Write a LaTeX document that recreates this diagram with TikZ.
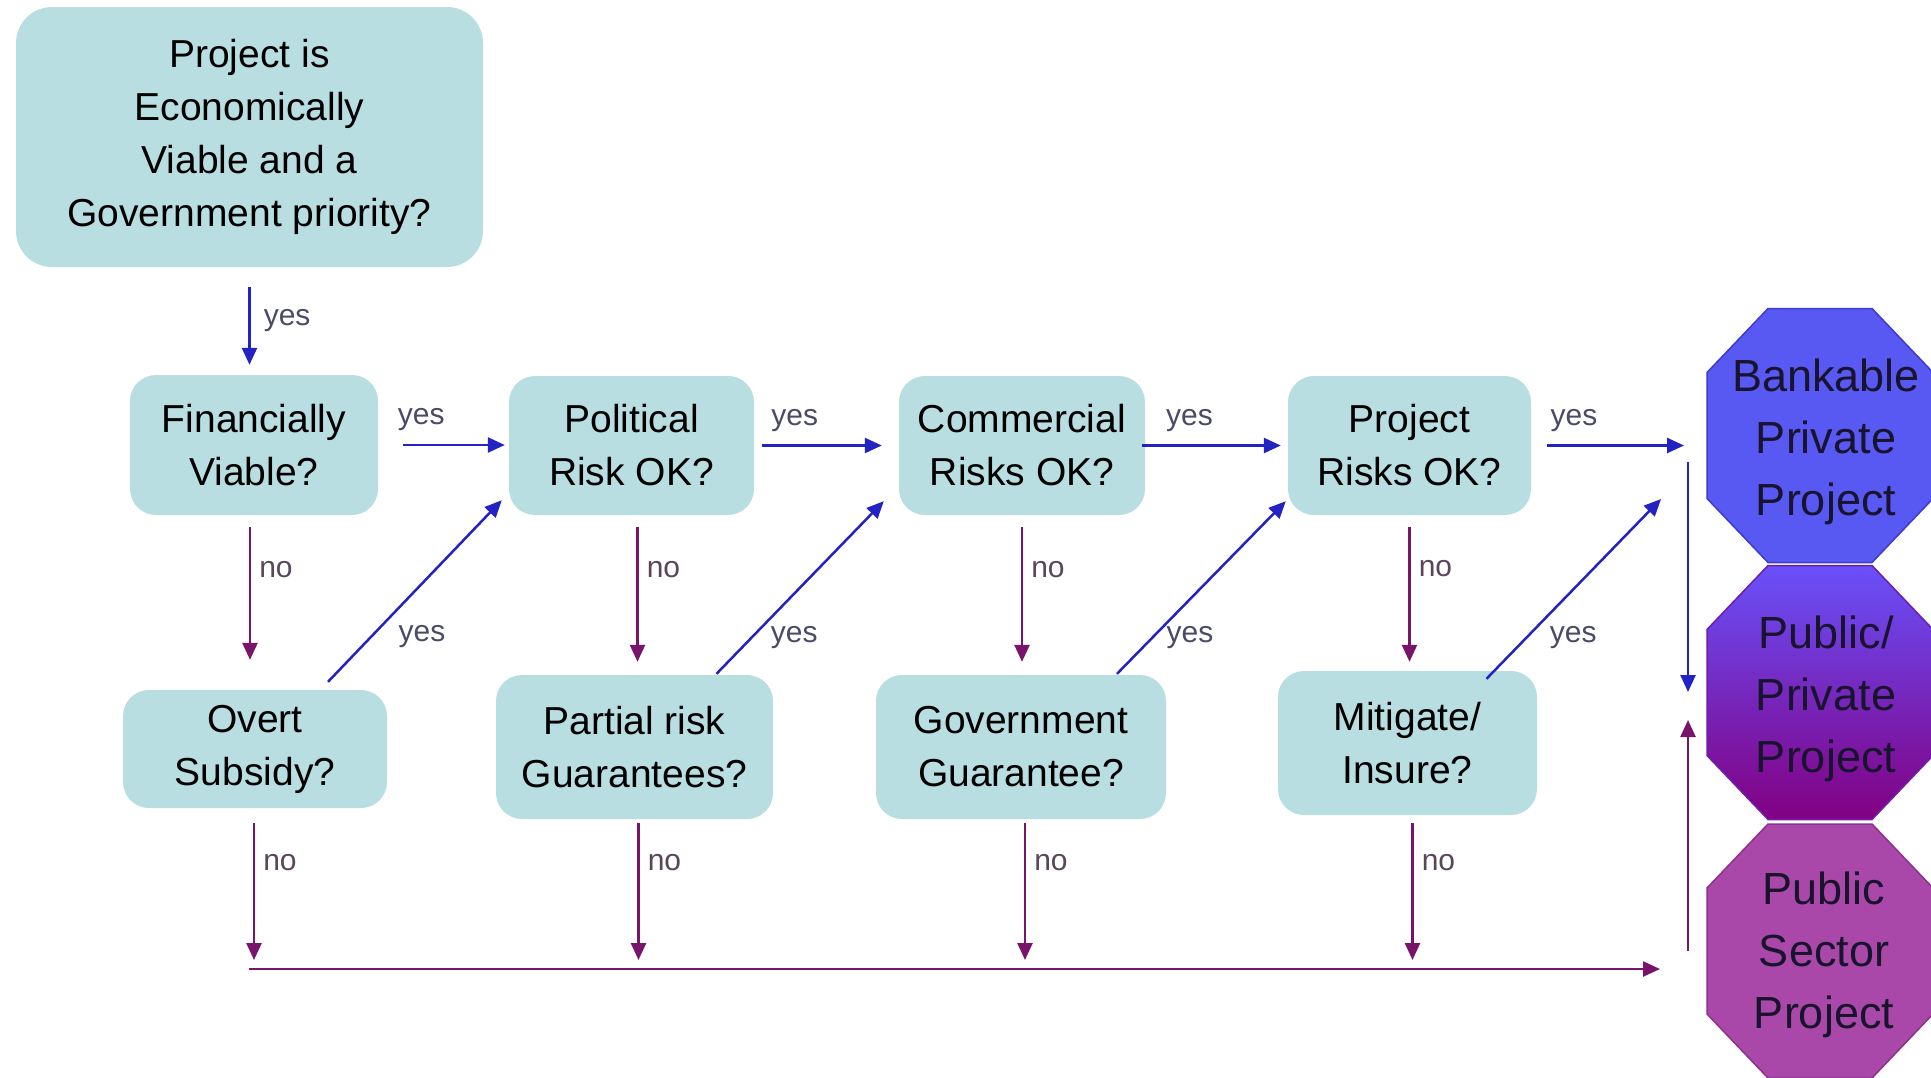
\documentclass[tikz,border=0pt]{standalone}
\usepackage{fontspec}
\setmainfont{Liberation Sans}
\usetikzlibrary{arrows.meta,calc}
\definecolor{boxfill}{RGB}{184,222,226}
\definecolor{yescol}{RGB}{35,35,195}
\definecolor{nocol}{RGB}{120,20,105}
\definecolor{yeslbl}{RGB}{75,75,105}
\definecolor{nolbl}{RGB}{90,70,90}
\definecolor{oAfill}{RGB}{88,88,242}
\definecolor{oAdraw}{RGB}{60,60,205}
\definecolor{oBtop}{RGB}{105,80,250}
\definecolor{oBbot}{RGB}{130,0,130}
\definecolor{oBdraw}{RGB}{110,30,170}
\definecolor{oCfill}{RGB}{170,72,170}
\definecolor{oCdraw}{RGB}{140,50,140}
\definecolor{octtext}{RGB}{25,20,45}
\newcommand\bxfont{\fontsize{39}{53}\selectfont}
\newcommand\lblfont{\fontsize{30}{36}\selectfont}
\newcommand\octfont{\fontsize{45}{62}\selectfont}
\begin{document}
\begin{tikzpicture}[x=1pt,y=-1pt,
  box/.style={fill=boxfill, rounded corners=26pt, align=center, font=\bxfont, text=black, inner sep=0pt},
  rowA/.style={box, minimum height=139pt},
  lbl/.style={font=\lblfont, inner sep=0pt},
  yl/.style={lbl, text=yeslbl},
  nl/.style={lbl, text=nolbl},
  ya/.style={draw=yescol, line width=2.5pt, -{Triangle[length=17pt,width=15pt]}},
  na/.style={draw=nocol, line width=2.5pt, -{Triangle[length=17pt,width=15pt]}},
  octtxt/.style={align=center, font=\octfont, text=octtext, inner sep=0pt}]
\useasboundingbox (0,0) rectangle (1931,1077);
\clip (0,0) rectangle (1931,1077);
\fill[white] (0,0) rectangle (1931,1077);

% octagons
\path[fill=oAfill, draw=oAdraw, line width=1.5pt, shift={(1820,435.5)}]
  (-113,-63) -- (-113,63) -- (-52,127) -- (52,127) -- (113,63) -- (113,-63) -- (52,-127) -- (-52,-127) -- cycle;
\path[top color=oBtop, bottom color=oBbot, draw=oBdraw, line width=1.5pt, shift={(1820,692.5)}]
  (-113,-63) -- (-113,63) -- (-52,127) -- (52,127) -- (113,63) -- (113,-63) -- (52,-127) -- (-52,-127) -- cycle;
\path[fill=oCfill, draw=oCdraw, line width=1.5pt, shift={(1820,951)}]
  (-113,-63) -- (-113,63) -- (-52,127) -- (52,127) -- (113,63) -- (113,-63) -- (52,-127) -- (-52,-127) -- cycle;
\node[octtxt] (bank) at (1826,442) {Bankable\\Private\\Project};
\node[octtxt] (ppp) at (1826,699) {Public/\\Private\\Project};
\node[octtxt] (pub) at (1824,955) {Public\\Sector\\Project};

% boxes
\node[box, minimum width=467pt, minimum height=260pt, rounded corners=36pt] (top) at (249.5,137)
  {Project is\\Economically\\Viable and a\\Government priority?};
\node[rowA, minimum width=248pt, minimum height=140pt] (fin) at (254,445) {Financially\\Viable?};
\node[rowA, minimum width=245pt] (pol) at (631.5,445.5) {Political\\Risk OK?};
\node[rowA, minimum width=246pt] (com) at (1022,445.5) {Commercial\\Risks OK?};
\node[rowA, minimum width=243pt] (prj) at (1409.5,445.5) {Project\\Risks OK?};
\node[box, minimum width=264pt, minimum height=118pt] (ovt) at (255,749) {Overt\\Subsidy?};
\node[box, minimum width=277pt, minimum height=144pt] (par) at (634.5,747) {Partial risk\\Guarantees?};
\node[box, minimum width=290pt, minimum height=144pt] (gov) at (1021,747) {Government\\Guarantee?};
\node[box, minimum width=259pt, minimum height=144pt] (mit) at (1407.5,743) {Mitigate/\\Insure?};

% free ends
\coordinate (hend) at (1684,445.5);
\coordinate (vtop) at (1688,462);
\coordinate (vbot) at (1688,692);
\coordinate (ptop) at (1688,720);
\coordinate (pbot) at (1688,951);
\coordinate (bl) at (249,969);
\coordinate (br) at (1660,969);
\coordinate (dend) at (1661,499);

% yes arrows
\draw[ya, shorten <=20pt, shorten >=10pt] (top.south) -- (top.south |- fin.north)
  node[yl, pos=0.5, anchor=west, xshift=13pt] {yes};
\draw[ya, shorten <=25pt, shorten >=4pt] (fin.east) -- (fin.east -| pol.west)
  node[yl, pos=0.33, anchor=south, yshift=13pt] {yes};
\draw[ya, shorten <=8pt, shorten >=17pt] (pol.east) -- (pol.east -| com.west)
  node[yl, pos=0.28, anchor=south, yshift=13pt] {yes};
\draw[ya, shorten <=-3pt, shorten >=7pt] (com.east) -- (com.east -| prj.west)
  node[yl, pos=0.31, anchor=south, yshift=13pt] {yes};
\draw[ya, shorten <=16pt] (prj.east) -- (hend)
  node[yl, pos=0.28, anchor=south, yshift=13pt] {yes};
\draw[ya] (vtop) -- (vbot);

% diagonal yes arrows
\draw[ya] ([xshift=73pt, yshift=8pt]ovt.north) -- ([xshift=-7pt, yshift=15pt]pol.south west)
  node[yl, pos=0.25, anchor=west, xshift=26pt] {yes};
\draw[ya] ([xshift=82pt, yshift=1pt]par.north) -- ([xshift=-15pt, yshift=14pt]com.south west)
  node[yl, pos=0.21, anchor=west, xshift=18pt] {yes};
\draw[ya] ([xshift=96pt, yshift=1pt]gov.north) -- ([xshift=-2pt, yshift=14pt]prj.south west)
  node[yl, pos=0.21, anchor=west, xshift=13pt] {yes};
\draw[ya] ([xshift=79pt, yshift=-8pt]mit.north) -- (dend)
  node[yl, pos=0.23, anchor=west, xshift=22pt] {yes};

% no arrows, first row to second row
\draw[na, shorten <=12pt, shorten >=30pt] ([xshift=-4pt]fin.south) -- ([xshift=-4pt]fin.south |- ovt.north)
  node[nl, pos=0.31, anchor=west, xshift=8pt] {no};
\draw[na, shorten <=12pt, shorten >=13pt] ([xshift=6pt]pol.south) -- ([xshift=6pt]pol.south |- par.north)
  node[nl, pos=0.34, anchor=west, xshift=8pt] {no};
\draw[na, shorten <=12pt, shorten >=13pt] (com.south) -- (com.south |- gov.north)
  node[nl, pos=0.34, anchor=west, xshift=8pt] {no};
\draw[na, shorten <=12pt, shorten >=9pt] (prj.south) -- (prj.south |- mit.north)
  node[nl, pos=0.34, anchor=west, xshift=8pt] {no};

% no arrows, second row to bottom line
\draw[na, shorten <=15pt, shorten >=9pt] ([xshift=-1pt]ovt.south) -- ([xshift=-1pt]ovt.south |- bl)
  node[nl, pos=0.34, anchor=west, xshift=8pt] {no};
\draw[na, shorten <=4pt, shorten >=9pt] ([xshift=4pt]par.south) -- ([xshift=4pt]par.south |- bl)
  node[nl, pos=0.29, anchor=west, xshift=8pt] {no};
\draw[na, shorten <=4pt, shorten >=9pt] ([xshift=4pt]gov.south) -- ([xshift=4pt]gov.south |- bl)
  node[nl, pos=0.29, anchor=west, xshift=8pt] {no};
\draw[na, shorten <=8pt, shorten >=9pt] ([xshift=5pt]mit.south) -- ([xshift=5pt]mit.south |- bl)
  node[nl, pos=0.31, anchor=west, xshift=8pt] {no};
\draw[na] (bl) -- (br);
\draw[na] (pbot) -- (ptop);
\end{tikzpicture}
\end{document}
